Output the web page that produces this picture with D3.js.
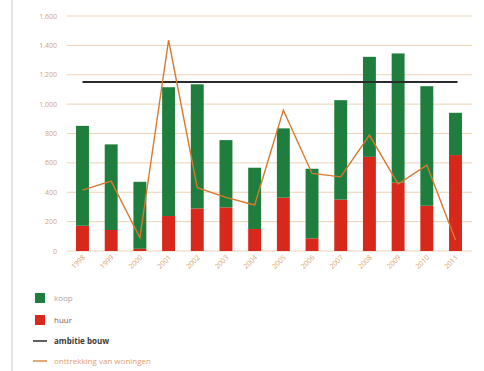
<!DOCTYPE html>
<html lang="nl">
<head>
<meta charset="utf-8">
<title>Woningbouw</title>
<script src="https://cdn.jsdelivr.net/npm/d3@7"></script>
<style>
  body { margin: 0; background: #fff; }
  svg { font-family: "Open Sans", "DejaVu Sans", sans-serif; }
  .grid line { stroke: #edd2b6; stroke-width: 1; }
  .tick-label { fill: #d9a46e; font-size: 7px; }
</style>
</head>
<body>
<div id="chart"></div>
<script>
var years = ["1998","1999","2000","2001","2002","2003","2004","2005","2006","2007","2008","2009","2010","2011"];
var huur  = [172, 143, 15, 238, 290, 297, 150, 363, 86, 350, 641, 465, 308, 653];
var koop  = [680, 583, 456, 877, 845, 458, 417, 472, 474, 677, 681, 880, 814, 288];
var onttrekking = [415, 476, 90, 1435, 431, 365, 313, 959, 528, 505, 789, 456, 585, 75];
var ambitie = 1150;
var yTicks = [0, 200, 400, 600, 800, 1000, 1200, 1400, 1600];

var width = 484, height = 371;

var svg = d3.select("#chart").append("svg")
    .attr("width", width)
    .attr("height", height);

// scan edge
svg.append("line")
    .attr("x1", 12).attr("x2", 12).attr("y1", 0).attr("y2", height)
    .attr("stroke", "#c8c8c8").attr("stroke-width", 1);

var x = d3.scaleBand()
    .domain(years)
    .range([68, 470])
    .paddingInner(0.55)
    .paddingOuter(0.28);

var y = d3.scaleLinear()
    .domain([0, 1600])
    .range([251, 16]);

var fmt = d3.formatLocale({decimal: ",", thousands: ".", grouping: [3], currency: ["€", ""]}).format(",d");

// grid
var grid = svg.append("g").attr("class", "grid");
grid.selectAll("line")
    .data(yTicks)
  .enter().append("line")
    .attr("x1", 67).attr("x2", 472)
    .attr("y1", function(d) { return y(d); })
    .attr("y2", function(d) { return y(d); });

svg.append("g").selectAll("text")
    .data(yTicks)
  .enter().append("text")
    .attr("class", "tick-label")
    .attr("x", 57)
    .attr("y", function(d) { return y(d) + 2.5; })
    .attr("text-anchor", "end")
    .text(function(d) { return fmt(d); });

// stacked bars
var rows = years.map(function(yr, i) { return {year: yr, huur: huur[i], koop: koop[i]}; });
var stack = d3.stack().keys(["huur", "koop"])(rows);
var colors = {huur: "#d8281b", koop: "#1f7e3d"};

svg.append("g").selectAll("g")
    .data(stack)
  .enter().append("g")
    .attr("fill", function(d) { return colors[d.key]; })
  .selectAll("rect")
    .data(function(d) { return d; })
  .enter().append("rect")
    .attr("x", function(d) { return x(d.data.year); })
    .attr("width", x.bandwidth())
    .attr("y", function(d) { return y(d[1]); })
    .attr("height", function(d) { return y(d[0]) - y(d[1]); });

// x labels
svg.append("g").selectAll("text")
    .data(years)
  .enter().append("text")
    .attr("class", "tick-label")
    .attr("font-size", "6px")
    .attr("text-anchor", "end")
    .attr("transform", function(d) {
      return "translate(" + (x(d) + x.bandwidth() / 2 + 3) + ",258) rotate(-45)";
    })
    .text(function(d) { return d; });

// ambitie bouw
svg.append("line")
    .attr("x1", x(years[0]) + x.bandwidth() / 2)
    .attr("x2", x(years[years.length - 1]) + x.bandwidth() / 2 + 2)
    .attr("y1", y(ambitie)).attr("y2", y(ambitie))
    .attr("stroke", "#2b2b2b").attr("stroke-width", 2);

// onttrekking
var line = d3.line()
    .x(function(d, i) { return x(years[i]) + x.bandwidth() / 2; })
    .y(function(d) { return y(d); });

svg.append("path")
    .datum(onttrekking)
    .attr("fill", "none")
    .attr("stroke", "#d8782f")
    .attr("stroke-width", 1.4)
    .attr("d", line);

// legend
var legend = svg.append("g").attr("font-size", "8px");
legend.append("rect").attr("x", 35).attr("y", 293).attr("width", 10).attr("height", 10).attr("fill", colors.koop);
legend.append("text").attr("x", 54).attr("y", 301).attr("fill", "#a8a8a8").text("koop");
legend.append("rect").attr("x", 35).attr("y", 315).attr("width", 10).attr("height", 10).attr("fill", colors.huur);
legend.append("text").attr("x", 54).attr("y", 323).attr("fill", "#8a5a50").text("huur");
legend.append("line").attr("x1", 33).attr("x2", 47).attr("y1", 341).attr("y2", 341)
    .attr("stroke", "#2b2b2b").attr("stroke-width", 1.5);
legend.append("text").attr("x", 54).attr("y", 344).attr("fill", "#3a3a3a").attr("font-weight", "bold").text("ambitie bouw");
legend.append("line").attr("x1", 33).attr("x2", 47).attr("y1", 361).attr("y2", 361)
    .attr("stroke", "#d8782f").attr("stroke-width", 1.3);
legend.append("text").attr("x", 54).attr("y", 364).attr("fill", "#e0a070").text("onttrekking van woningen");
</script>
</body>
</html>
